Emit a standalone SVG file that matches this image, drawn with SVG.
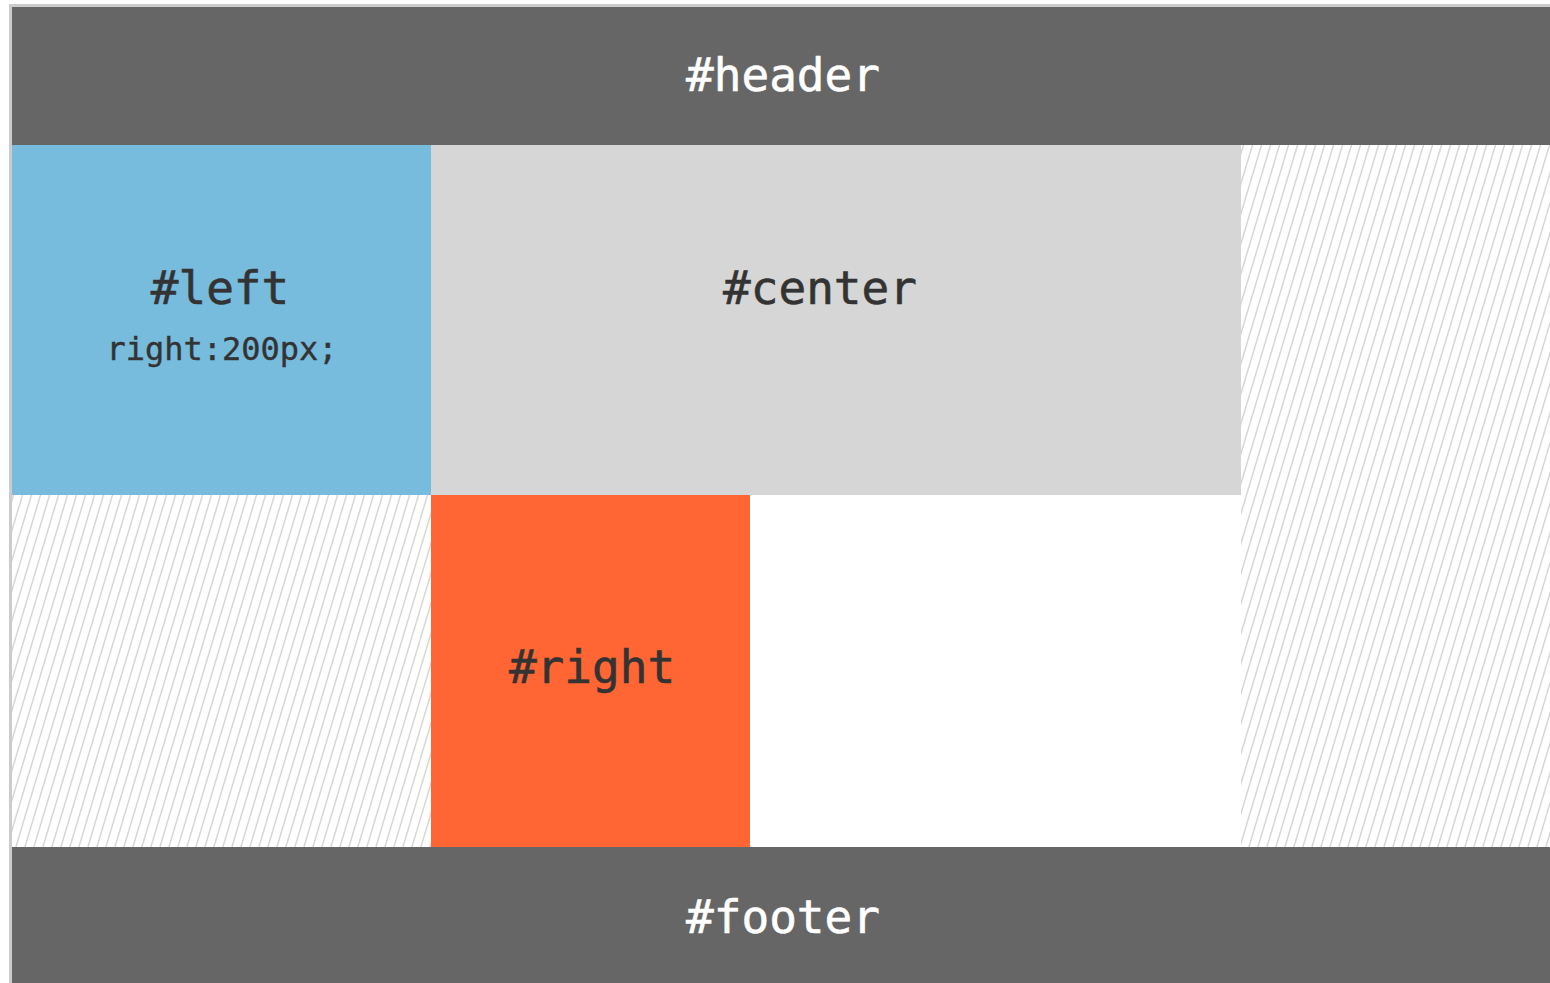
<svg xmlns="http://www.w3.org/2000/svg" width="1550" height="983" viewBox="0 0 1550 983">
<defs>
<pattern id="hatch" patternUnits="userSpaceOnUse" width="9" height="30">
<rect width="9" height="30" fill="#ffffff"/>
<path d="M-2.4,38 L11.4,-8 M-11.4,38 L2.4,-8 M6.6,38 L20.4,-8" stroke="#d6d6d6" stroke-width="1.5" fill="none"/>
</pattern>
<style>
.lbl{font-family:"DejaVu Sans Mono","Liberation Mono",monospace;font-size:46px;text-anchor:middle;stroke-width:0.6px}
.dark{fill:#333333;stroke:#333333}
.light{fill:#ffffff;stroke:#ffffff}
.small{font-size:32px;stroke-width:0.4px}
</style>
</defs>
<rect width="1550" height="983" fill="#ffffff"/>
<rect id="frame" x="9" y="4" width="1544" height="985" fill="#cccccc"/>
<g id="hatch-left"><rect x="12" y="495" width="419" height="352" fill="url(#hatch)"/></g>
<g id="hatch-right"><rect x="1241" y="145" width="309" height="702" fill="url(#hatch)"/></g>
<rect id="white-area" x="750" y="495" width="491" height="352" fill="#ffffff"/>
<g id="header">
<rect x="12" y="7" width="1538" height="138" fill="#666666"/>
<text class="lbl light" x="783" y="91">#header</text>
</g>
<g id="left">
<rect x="12" y="145" width="419" height="350" fill="#77bbdd"/>
<text class="lbl dark" x="220" y="304">#left</text>
<text class="lbl dark small" x="222" y="360">right:200px;</text>
</g>
<g id="center">
<rect x="431" y="145" width="810" height="350" fill="#d6d6d6"/>
<text class="lbl dark" x="820" y="304">#center</text>
</g>
<g id="right">
<rect x="431" y="495" width="319" height="352" fill="#ff6633"/>
<text class="lbl dark" x="592" y="683">#right</text>
</g>
<g id="footer">
<rect x="12" y="847" width="1538" height="136" fill="#666666"/>
<text class="lbl light" x="783" y="933">#footer</text>
</g>
<g id="connectors"/>
</svg>
